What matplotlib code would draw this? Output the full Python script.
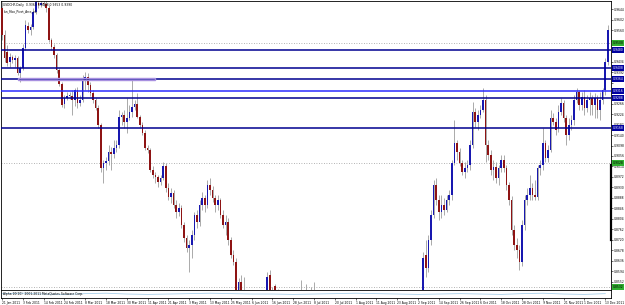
import matplotlib
matplotlib.use("Agg")
import matplotlib.pyplot as plt
from matplotlib.patches import Rectangle
import numpy as np

# USDCHF daily candles, Jan - Dec 2011
opens = [
    0.9648, 0.9540, 0.9472, 0.9432, 0.9452, 0.9440, 0.9448, 0.9388, 0.9408, 0.9488,
    0.9576, 0.9560, 0.9572, 0.9632, 0.9668, 0.9660, 0.9668, 0.9664, 0.9648, 0.9520,
    0.9492, 0.9460, 0.9400, 0.9344, 0.9264, 0.9288, 0.9296, 0.9296, 0.9280, 0.9320,
    0.9268, 0.9280, 0.9360, 0.9372, 0.9340, 0.9308, 0.9280, 0.9248, 0.9180, 0.9008,
    0.9028, 0.9036, 0.9072, 0.9064, 0.9088, 0.9100, 0.9212, 0.9220, 0.9192, 0.9208,
    0.9232, 0.9252, 0.9264, 0.9212, 0.9180, 0.9148, 0.9088, 0.9080, 0.9000, 0.8980,
    0.8972, 0.8952, 0.8968, 0.9016, 0.8928, 0.8892, 0.8908, 0.8860, 0.8832, 0.8848,
    0.8780, 0.8728, 0.8688, 0.8700, 0.8740, 0.8820, 0.8792, 0.8860, 0.8888, 0.8860,
    0.8940, 0.8920, 0.8888, 0.8860, 0.8880, 0.8820, 0.8780, 0.8792, 0.8720, 0.8660,
    0.8632, 0.8512, 0.8552, 0.8520, 0.8508, 0.8470, 0.8440, 0.8455, 0.8420, 0.8400,
    0.8380, 0.8420, 0.8460, 0.8580, 0.8500, 0.8535, 0.8515, 0.8470, 0.8430, 0.8410,
    0.8440, 0.8400, 0.8380, 0.8420, 0.8400, 0.8440, 0.8470, 0.8430, 0.8450, 0.8410,
    0.8440, 0.8420, 0.8380, 0.8350, 0.8300, 0.8270, 0.8250, 0.8200, 0.8180, 0.8130,
    0.8100, 0.8050, 0.8020, 0.7950, 0.7880, 0.7820, 0.7750, 0.7650, 0.7500, 0.7300,
    0.7250, 0.7450, 0.7650, 0.7600, 0.7800, 0.7750, 0.7850, 0.7800, 0.7950, 0.8050,
    0.7950, 0.8000, 0.8080, 0.8100, 0.8000, 0.7950, 0.7900, 0.7850, 0.7800, 0.7900,
    0.7850, 0.7800, 0.7780, 0.8660, 0.8608, 0.8720, 0.8820, 0.8940, 0.8880, 0.8832,
    0.8860, 0.8840, 0.8880, 0.8900, 0.9028, 0.9108, 0.9072, 0.9028, 0.8992, 0.9008,
    0.9020, 0.9100, 0.9232, 0.9192, 0.9220, 0.9240, 0.9280, 0.9100, 0.9060, 0.9000,
    0.9012, 0.8968, 0.9008, 0.9040, 0.9008, 0.8940, 0.8880, 0.8760, 0.8700, 0.8680,
    0.8632, 0.8780, 0.8880, 0.8900, 0.8928, 0.8900, 0.8892, 0.9008, 0.9020, 0.9108,
    0.9048, 0.9080, 0.9208, 0.9192, 0.9168, 0.9232, 0.9268, 0.9208, 0.9140, 0.9180,
    0.9200, 0.9280, 0.9312, 0.9260, 0.9292, 0.9248, 0.9280, 0.9288, 0.9260, 0.9288,
    0.9240, 0.9280, 0.9320, 0.9432,
]
closes = [
    0.9540, 0.9448, 0.9428, 0.9452, 0.9440, 0.9448, 0.9388, 0.9408, 0.9488, 0.9580,
    0.9560, 0.9572, 0.9632, 0.9672, 0.9660, 0.9668, 0.9664, 0.9648, 0.9520, 0.9492,
    0.9460, 0.9400, 0.9344, 0.9260, 0.9288, 0.9296, 0.9300, 0.9280, 0.9320, 0.9268,
    0.9280, 0.9360, 0.9372, 0.9340, 0.9308, 0.9280, 0.9248, 0.9180, 0.9008, 0.9028,
    0.9036, 0.9072, 0.9064, 0.9088, 0.9100, 0.9212, 0.9220, 0.9192, 0.9208, 0.9232,
    0.9252, 0.9264, 0.9212, 0.9180, 0.9148, 0.9088, 0.9080, 0.9000, 0.8980, 0.8972,
    0.8952, 0.8968, 0.9016, 0.8928, 0.8892, 0.8908, 0.8860, 0.8832, 0.8848, 0.8780,
    0.8728, 0.8688, 0.8700, 0.8740, 0.8820, 0.8792, 0.8860, 0.8888, 0.8860, 0.8940,
    0.8920, 0.8888, 0.8860, 0.8880, 0.8820, 0.8780, 0.8792, 0.8720, 0.8660, 0.8632,
    0.8512, 0.8552, 0.8512, 0.8508, 0.8470, 0.8440, 0.8455, 0.8420, 0.8400, 0.8380,
    0.8420, 0.8460, 0.8570, 0.8500, 0.8480, 0.8515, 0.8470, 0.8430, 0.8410, 0.8440,
    0.8400, 0.8380, 0.8420, 0.8400, 0.8440, 0.8470, 0.8430, 0.8450, 0.8410, 0.8440,
    0.8420, 0.8380, 0.8350, 0.8300, 0.8270, 0.8250, 0.8200, 0.8180, 0.8130, 0.8100,
    0.8050, 0.8020, 0.7950, 0.7880, 0.7820, 0.7750, 0.7650, 0.7500, 0.7300, 0.7250,
    0.7450, 0.7650, 0.7600, 0.7800, 0.7750, 0.7850, 0.7800, 0.7950, 0.8050, 0.7950,
    0.8000, 0.8080, 0.8100, 0.8000, 0.7950, 0.7900, 0.7850, 0.7800, 0.7900, 0.7850,
    0.7800, 0.7780, 0.8648, 0.8608, 0.8720, 0.8820, 0.8940, 0.8880, 0.8832, 0.8860,
    0.8840, 0.8880, 0.8900, 0.9028, 0.9108, 0.9072, 0.9028, 0.8992, 0.9008, 0.9020,
    0.9100, 0.9232, 0.9192, 0.9220, 0.9240, 0.9280, 0.9100, 0.9060, 0.9000, 0.9012,
    0.8968, 0.9008, 0.9040, 0.9008, 0.8940, 0.8880, 0.8760, 0.8700, 0.8680, 0.8632,
    0.8780, 0.8880, 0.8900, 0.8928, 0.8900, 0.8892, 0.9008, 0.9020, 0.9108, 0.9048,
    0.9080, 0.9208, 0.9192, 0.9160, 0.9232, 0.9268, 0.9208, 0.9140, 0.9180, 0.9200,
    0.9280, 0.9312, 0.9260, 0.9292, 0.9248, 0.9280, 0.9288, 0.9260, 0.9288, 0.9240,
    0.9280, 0.9320, 0.9432, 0.9560,
]
highs = [
    0.9672, 0.9560, 0.9500, 0.9468, 0.9460, 0.9460, 0.9456, 0.9416, 0.9504, 0.9600,
    0.9592, 0.9584, 0.9648, 0.9680, 0.9688, 0.9680, 0.9680, 0.9680, 0.9660, 0.9528,
    0.9504, 0.9468, 0.9408, 0.9352, 0.9300, 0.9312, 0.9312, 0.9320, 0.9328, 0.9332,
    0.9300, 0.9380, 0.9392, 0.9388, 0.9352, 0.9320, 0.9288, 0.9260, 0.9188, 0.9040,
    0.9052, 0.9100, 0.9092, 0.9120, 0.9120, 0.9240, 0.9232, 0.9240, 0.9288, 0.9260,
    0.9360, 0.9280, 0.9308, 0.9220, 0.9192, 0.9160, 0.9100, 0.9088, 0.9016, 0.8992,
    0.8980, 0.8980, 0.9032, 0.9028, 0.8948, 0.8928, 0.8920, 0.8880, 0.8868, 0.8860,
    0.8792, 0.8740, 0.8720, 0.8760, 0.8832, 0.8840, 0.8880, 0.8912, 0.8900, 0.8960,
    0.8968, 0.8936, 0.8900, 0.8900, 0.8888, 0.8840, 0.8820, 0.8808, 0.8732, 0.8680,
    0.8648, 0.8568, 0.8580, 0.8572, 0.8515, 0.8490, 0.8480, 0.8470, 0.8440, 0.8420,
    0.8440, 0.8490, 0.8590, 0.8600, 0.8530, 0.8545, 0.8525, 0.8480, 0.8450, 0.8460,
    0.8450, 0.8420, 0.8430, 0.8440, 0.8460, 0.8560, 0.8520, 0.8545, 0.8480, 0.8530,
    0.8550, 0.8430, 0.8400, 0.8360, 0.8320, 0.8290, 0.8270, 0.8230, 0.8200, 0.8150,
    0.8120, 0.8070, 0.8040, 0.7970, 0.7900, 0.7840, 0.7770, 0.7680, 0.7520, 0.7400,
    0.7500, 0.7700, 0.7750, 0.7850, 0.7900, 0.7930, 0.7950, 0.8000, 0.8150, 0.8080,
    0.8050, 0.8120, 0.8180, 0.8130, 0.8050, 0.7980, 0.7930, 0.7880, 0.7950, 0.7930,
    0.7900, 0.7830, 0.8672, 0.8720, 0.8740, 0.8840, 0.8960, 0.8968, 0.8900, 0.8900,
    0.8888, 0.8900, 0.8920, 0.9040, 0.9200, 0.9120, 0.9088, 0.9040, 0.9032, 0.9040,
    0.9120, 0.9272, 0.9248, 0.9240, 0.9260, 0.9328, 0.9300, 0.9120, 0.9080, 0.9040,
    0.9032, 0.9020, 0.9060, 0.9060, 0.9020, 0.8952, 0.8896, 0.8780, 0.8728, 0.8700,
    0.8800, 0.8900, 0.8928, 0.8980, 0.8948, 0.8960, 0.9020, 0.9040, 0.9168, 0.9120,
    0.9100, 0.9240, 0.9228, 0.9208, 0.9260, 0.9288, 0.9280, 0.9220, 0.9208, 0.9220,
    0.9300, 0.9328, 0.9320, 0.9312, 0.9320, 0.9300, 0.9312, 0.9300, 0.9308, 0.9300,
    0.9312, 0.9328, 0.9448, 0.9580,
]
lows = [
    0.9520, 0.9432, 0.9416, 0.9412, 0.9428, 0.9412, 0.9380, 0.9352, 0.9400, 0.9480,
    0.9548, 0.9540, 0.9564, 0.9624, 0.9648, 0.9652, 0.9656, 0.9632, 0.9512, 0.9480,
    0.9448, 0.9388, 0.9336, 0.9252, 0.9248, 0.9280, 0.9284, 0.9220, 0.9256, 0.9248,
    0.9256, 0.9272, 0.9320, 0.9312, 0.9296, 0.9268, 0.9240, 0.9168, 0.8992, 0.8948,
    0.9000, 0.9020, 0.9000, 0.9048, 0.9072, 0.9088, 0.9180, 0.9168, 0.9148, 0.9200,
    0.9212, 0.9240, 0.9208, 0.9168, 0.9140, 0.9080, 0.9068, 0.8992, 0.8968, 0.8948,
    0.8932, 0.8940, 0.8960, 0.8912, 0.8880, 0.8868, 0.8848, 0.8808, 0.8816, 0.8768,
    0.8712, 0.8672, 0.8592, 0.8648, 0.8720, 0.8768, 0.8776, 0.8840, 0.8832, 0.8848,
    0.8900, 0.8872, 0.8832, 0.8840, 0.8808, 0.8768, 0.8740, 0.8700, 0.8648, 0.8620,
    0.8496, 0.8496, 0.8488, 0.8480, 0.8450, 0.8420, 0.8410, 0.8400, 0.8370, 0.8350,
    0.8360, 0.8400, 0.8450, 0.8490, 0.8460, 0.8490, 0.8450, 0.8410, 0.8390, 0.8390,
    0.8380, 0.8360, 0.8370, 0.8380, 0.8390, 0.8430, 0.8410, 0.8420, 0.8390, 0.8400,
    0.8400, 0.8360, 0.8330, 0.8280, 0.8250, 0.8220, 0.8180, 0.8150, 0.8110, 0.8070,
    0.8030, 0.7990, 0.7920, 0.7850, 0.7790, 0.7720, 0.7600, 0.7450, 0.7200, 0.7070,
    0.7200, 0.7400, 0.7550, 0.7580, 0.7700, 0.7720, 0.7750, 0.7780, 0.7900, 0.7900,
    0.7900, 0.7950, 0.8030, 0.7960, 0.7900, 0.7850, 0.7800, 0.7750, 0.7780, 0.7800,
    0.7750, 0.7720, 0.7750, 0.8572, 0.8592, 0.8700, 0.8808, 0.8860, 0.8800, 0.8808,
    0.8820, 0.8832, 0.8860, 0.8880, 0.9020, 0.9040, 0.9016, 0.8980, 0.8968, 0.8992,
    0.9000, 0.9088, 0.9172, 0.9160, 0.9208, 0.9232, 0.9032, 0.9040, 0.8980, 0.8960,
    0.8948, 0.8940, 0.8992, 0.8992, 0.8920, 0.8860, 0.8740, 0.8680, 0.8648, 0.8600,
    0.8616, 0.8760, 0.8860, 0.8880, 0.8880, 0.8880, 0.8880, 0.8980, 0.9000, 0.9032,
    0.9032, 0.9072, 0.9180, 0.9140, 0.9152, 0.9220, 0.9192, 0.9100, 0.9120, 0.9160,
    0.9180, 0.9268, 0.9240, 0.9240, 0.9220, 0.9232, 0.9220, 0.9220, 0.9208, 0.9208,
    0.9200, 0.9264, 0.9300, 0.9420,
]

date_labels = [
    "21 Jan 2011", "3 Feb 2011", "14 Feb 2011", "24 Feb 2011", "8 Mar 2011",
    "18 Mar 2011", "30 Mar 2011", "11 Apr 2011", "21 Apr 2011", "3 May 2011",
    "13 May 2011", "25 May 2011", "6 Jun 2011", "16 Jun 2011", "28 Jun 2011",
    "8 Jul 2011", "20 Jul 2011", "1 Aug 2011", "11 Aug 2011", "23 Aug 2011",
    "2 Sep 2011", "14 Sep 2011", "26 Sep 2011", "6 Oct 2011", "18 Oct 2011",
    "28 Oct 2011", "9 Nov 2011", "21 Nov 2011", "1 Dec 2011", "13 Dec 2011",
]

# horizontal levels drawn on the chart
level_lines = [0.9480, 0.9408, 0.9364, 0.9316, 0.9288, 0.9168]
level_colors = ["#000090", "#000090", "#000090", "#2a2aff", "#000090", "#000090"]
dotted_levels = [0.9508, 0.9028, 0.8532]

# indicator sub-window line
indicator = [0.55, 0.6, 0.5, 0.45, 0.55, 0.6, 0.5, 0.45, 0.5, 0.55,
             0.6, 0.55, 0.5, 0.5, 0.45, 0.5, 0.55, 0.6, 0.55, 0.5,
             0.45, 0.5, 0.55, 0.5, 0.45, 0.55, 0.6, 0.5, 0.45, 0.55]

SMALL = 2.2

fig = plt.figure(figsize=(6.25, 3.05), dpi=100)
fig.patch.set_facecolor("white")
ax = fig.add_axes([0.0016, 0.0492, 0.976, 0.9475])

o = np.array(opens)
c = np.array(closes)
x = np.arange(len(o))
up = c >= o

ax.vlines(x, lows, highs, color="#9c9c9c", lw=0.6, zorder=2)
ax.bar(x[up], np.maximum((c - o)[up], 0.0003), bottom=o[up], width=0.62,
       color="#1818b0", lw=0, zorder=3)
ax.bar(x[~up], (o - c)[~up], bottom=c[~up], width=0.62,
       color="#8e1414", lw=0, zorder=3)

for lv, col in zip(level_lines, level_colors):
    ax.axhline(lv, color=col, lw=1.1, zorder=4)
for lv in dotted_levels:
    ax.axhline(lv, color="#9a9a9a", lw=0.6, ls=(0, (1, 2)), zorder=1)

ax.add_patch(Rectangle((6, 0.9359), 53, 0.0010, fill=False,
                       edgecolor="#a890e0", lw=1.0, zorder=5))

ax.set_xlim(-0.4, 234.2)
ax.set_ylim(0.8520, 0.9676)
ax.set_xticks([])
ax.yaxis.tick_right()
ticks = 0.9644 - 0.0042 * np.arange(27)
ticks = ticks[ticks > 0.853]
boxed = np.array(level_lines + dotted_levels)
ax.set_yticks(ticks)
ax.set_yticklabels(["" if np.min(np.abs(boxed - t)) < 0.0014 else "%.4f" % t
                    for t in ticks])
ax.tick_params(axis="y", labelsize=SMALL, length=1.5, width=0.4, pad=0.8)
for s in ax.spines.values():
    s.set_linewidth(0.6)
    s.set_color("black")

tr = ax.get_yaxis_transform()
for lv in level_lines:
    ax.text(1.003, lv, "%.4f" % lv, transform=tr, fontsize=SMALL, color="white",
            va="center", ha="left", zorder=6,
            bbox=dict(boxstyle="square,pad=0.2", fc="#0000a0", ec="none"))
for lv in dotted_levels:
    ax.text(1.003, lv, "%.4f" % lv, transform=tr, fontsize=SMALL, color="black",
            va="center", ha="left", zorder=6,
            bbox=dict(boxstyle="square,pad=0.2", fc="#30b030", ec="none"))
ax.plot([1, 1], [0.9020, 0.8720], transform=tr, color="black", lw=1.6,
        clip_on=False)

ax.text(0.004, 0.993, "USDCHF,Daily  0.9369 0.9408 0.9353 0.9390",
        transform=ax.transAxes, fontsize=SMALL, va="top", ha="left")
ax.text(0.004, 0.972, "Ian_Fibo_Pivot_Arcs_v1",
        transform=ax.transAxes, fontsize=SMALL, va="top", ha="left")

ax2 = fig.add_axes([0.0016, 0.023, 0.976, 0.026])
pos = 8 * np.arange(len(date_labels))
ax2.plot(pos, indicator, color="#a8cfe8", lw=0.6)
ax2.set_xlim(-0.4, 234.2)
ax2.set_ylim(0, 1)
ax2.set_yticks([])
ax2.set_xticks(pos)
ax2.set_xticklabels(date_labels, fontsize=SMALL, ha="left")
ax2.tick_params(axis="x", length=1.5, width=0.4, pad=0.5)
for s in ax2.spines.values():
    s.set_linewidth(0.6)
ax2.text(0.003, 0.5, "Alpha 10(10)  2001-2011 MetaQuotes Software Corp.",
         transform=ax2.transAxes, fontsize=SMALL, va="center", ha="left")

fig.savefig("out.png", dpi=100)
